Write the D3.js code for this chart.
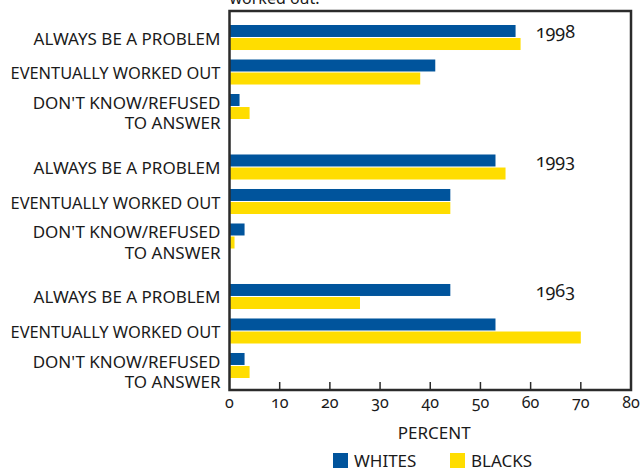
<!DOCTYPE html>
<html>
<head>
<meta charset="utf-8">
<script src="https://cdn.jsdelivr.net/npm/d3@7"></script>
<style>
  body { margin: 0; background: #fff; }
  svg { display: block; }
  text { font-family: "Noto Sans", sans-serif; fill: #1a1a1a; }
  .num { font-feature-settings: "onum" 1; }
</style>
</head>
<body>
<div id="chart"></div>
<script>
const years = ["1998", "1993", "1963"]
const categories = ["ALWAYS BE A PROBLEM", "EVENTUALLY WORKED OUT", "DON'T KNOW/REFUSED|TO ANSWER"]
const series = ["WHITES", "BLACKS"]
const colors = ["#00549c", "#ffdd00"]
const ticks = [0, 10, 20, 30, 40, 50, 60, 70, 80]

// values per year, order follows categories
const whites = {
	"1998": [57, 41, 2],
	"1993": [53, 44, 3],
	"1963": [44, 53, 3]
}
const blacks = {
	"1998": [58, 38, 4],
	"1993": [55, 44, 1],
	"1963": [26, 70, 4]
}

const width = 643, height = 470
const frame = { left: 229.5, right: 631, top: 11, bottom: 390 }
const labelMax = 210

const svg = d3.select("#chart").append("svg")
	.attr("width", width)
	.attr("height", height)

const x = d3.scaleLinear().domain([0, 80]).range([frame.left, frame.right])

const yYear = d3.scaleBand().domain(years).range([25, 378]).paddingInner(0.274).paddingOuter(0)
const yCat = d3.scaleBand().domain(categories).range([0, yYear.bandwidth()]).paddingInner(0.275).paddingOuter(0)
const ySer = d3.scaleBand().domain(series).range([0, yCat.bandwidth()]).paddingInner(0.08)
const color = d3.scaleOrdinal().domain(series).range(colors)

// cut-off subtitle at the very top
svg.append("text")
	.attr("x", frame.left)
	.attr("y", 4)
	.style("font-size", "16px")
	.text("worked out.")

const rows = []
years.forEach(yr => categories.forEach((c, i) => {
	rows.push({ year: yr, cat: c, key: "WHITES", v: whites[yr][i] })
	rows.push({ year: yr, cat: c, key: "BLACKS", v: blacks[yr][i] })
}))

svg.append("g").selectAll("rect").data(rows).join("rect")
	.attr("x", x(0))
	.attr("y", d => yYear(d.year) + yCat(d.cat) + ySer(d.key))
	.attr("width", d => x(d.v) - x(0))
	.attr("height", ySer.bandwidth())
	.attr("fill", d => color(d.key))

function label(str, y) {
	const t = svg.append("text")
		.attr("text-anchor", "end")
		.attr("x", frame.left - 9)
		.attr("y", y)
		.style("font-size", "17px")
		.text(str)
	if (t.node().getComputedTextLength() > labelMax)
		t.attr("textLength", labelMax).attr("lengthAdjust", "spacingAndGlyphs")
}

// category labels
years.forEach(yr => {
	categories.forEach(c => {
		const cy = yYear(yr) + yCat(c) + yCat.bandwidth() / 2
		const lines = c.split("|")
		if (lines.length == 1) {
			label(c, cy + 7)
		} else {
			label(lines[0], cy + 2.5)
			label(lines[1], cy + 22.5)
		}
	})
	svg.append("text")
		.attr("class", "num")
		.attr("x", x(61))
		.attr("y", yYear(yr) + 13)
		.style("font-size", "18px")
		.text(yr)
})

// frame
svg.append("rect")
	.attr("x", frame.left)
	.attr("y", frame.top)
	.attr("width", frame.right - frame.left)
	.attr("height", frame.bottom - frame.top)
	.attr("fill", "none")
	.attr("stroke", "#2b2b2b")
	.attr("stroke-width", 2.5)

// x axis ticks pointing inward
const axis = svg.append("g")
axis.selectAll("line").data(ticks.slice(1, -1)).join("line")
	.attr("x1", d => x(d)).attr("x2", d => x(d))
	.attr("y1", frame.bottom).attr("y2", frame.bottom - 8)
	.attr("stroke", "#2b2b2b")
	.attr("stroke-width", 1.5)
axis.selectAll("text").data(ticks).join("text")
	.attr("class", "num")
	.attr("x", d => x(d))
	.attr("y", 408)
	.attr("text-anchor", "middle")
	.style("font-size", "16px")
	.text(d => d)

svg.append("text")
	.attr("x", (frame.left + frame.right) / 2 + 4)
	.attr("y", 439)
	.attr("text-anchor", "middle")
	.style("font-size", "17px")
	.text("PERCENT")

// legend
const legend = svg.append("g").selectAll("g").data(series).join("g")
	.attr("transform", (d, i) => "translate(" + (333 + i * 117) + ",453)")
legend.append("rect")
	.attr("width", 15).attr("height", 15)
	.attr("fill", d => color(d))
legend.append("text")
	.attr("x", 21).attr("y", 14)
	.style("font-size", "17px")
	.text(d => d)
</script>
</body>
</html>
